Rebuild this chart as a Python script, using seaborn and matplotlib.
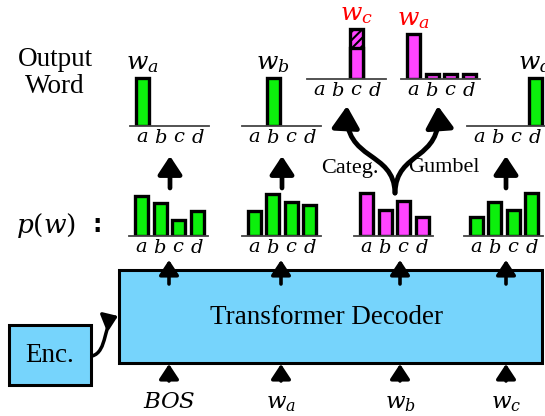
import matplotlib
matplotlib.use("Agg")
import matplotlib.pyplot as plt
import numpy as np
import seaborn as sns
from matplotlib.patches import Rectangle, FancyArrowPatch
from matplotlib.path import Path

# === DATA ===
vocab = ["a", "b", "c", "d"]

# p(w) per decoding step (bar heights, 1.0 = one-hot height)
p_bos = [0.83, 0.69, 0.33, 0.52]
p_wa = [0.52, 0.88, 0.71, 0.65]
p_wb = [0.90, 0.54, 0.73, 0.40]
p_wc = [0.40, 0.71, 0.54, 0.90]

# sampled output words
out_bos = [1.0, 0.0, 0.0, 0.0]
out_wa = [0.0, 1.0, 0.0, 0.0]
out_categ = [0.0, 0.0, 0.65, 0.0]
out_categ_hatch = [0.0, 0.0, 0.40, 0.0]
out_gumbel = [0.94, 0.10, 0.10, 0.10]
out_wc = [0.0, 0.0, 0.0, 1.0]

input_tokens = ["$BOS$", "$w_a$", "$w_b$", "$w_c$"]
output_words = ["$w_a$", "$w_b$", "$w_c$", "$w_a$", "$w_d$"]

GREEN = "#0cf00c"
MAGENTA = "#ff44ff"
BLUE = "#76d4fc"

# === FIGURE (pixel coordinates) ===
sns.set_style("white")
plt.rcParams["font.family"] = ["Liberation Serif", "DejaVu Serif"]
plt.rcParams["mathtext.fontset"] = "dejavuserif"
plt.rcParams["hatch.linewidth"] = 1.5
plt.rcParams["text.color"] = "black"
plt.rcParams["xtick.color"] = "black"
plt.rcParams["xtick.labelcolor"] = "black"

W, H = 545, 416
PX_UNIT = 48  # pixels per unit bar height
fig = plt.figure(figsize=(W / 100, H / 100), dpi=100)
ax0 = fig.add_axes([0, 0, 1, 1])
ax0.set_xlim(0, W)
ax0.set_ylim(H, 0)
ax0.axis("off")


def mini_chart(left, base, values, color, label=None, label_color="black", hatch_top=None):
    hpx = 62
    ax = fig.add_axes([left / W, (H - base) / H, 79 / W, hpx / H])
    ax.patch.set_alpha(0)
    total = list(values)
    if hatch_top is not None:
        total = [v + h for v, h in zip(values, hatch_top)]
        sns.barplot(x=vocab, y=total, color=color, saturation=1, width=0.7,
                    edgecolor="black", linewidth=2.4, hatch="////", ax=ax)
    sns.barplot(x=vocab, y=values, color=color, saturation=1, width=0.7,
                edgecolor="black", linewidth=2.4, ax=ax)
    for p in ax.patches:
        if p.get_height() <= 0:
            p.set_visible(False)
    ax.set_xlim(-0.68, 3.59)
    ax.set_ylim(0, hpx / PX_UNIT)
    sns.despine(ax=ax, left=True)
    ax.spines["bottom"].set_color("#444444")
    ax.spines["bottom"].set_linewidth(1.3)
    ax.set_yticks([])
    ax.set_xticks(range(len(vocab)))
    ax.set_xticklabels([f"${v}$" for v in vocab])
    ax.tick_params(axis="x", length=0, pad=2, labelsize=14, labelcolor="black")
    ax.set_xlabel("")
    ax.set_ylabel("")
    if label is not None:
        idx = int(np.argmax(total))
        ax.text(idx, total[idx] + 0.06, label, ha="center", va="bottom",
                fontsize=18, color=label_color)
    return ax


def arrow(x, y0, y1, lw=3, hw=0.3, hl=0.5, ms=20):
    ax0.annotate("", xy=(x, y1), xytext=(x, y0),
                 arrowprops=dict(arrowstyle=f"-|>,head_width={hw},head_length={hl}",
                                 lw=lw, color="black", shrinkA=0, shrinkB=0,
                                 mutation_scale=ms))


def curved_arrow(verts, lw=3.5, hw=0.35, hl=0.55, ms=20):
    path = Path(verts, [Path.MOVETO, Path.CURVE4, Path.CURVE4, Path.CURVE4])
    ax0.add_patch(FancyArrowPatch(path=path,
                                  arrowstyle=f"-|>,head_width={hw},head_length={hl}",
                                  mutation_scale=ms, lw=lw, color="black"))


# --- boxes ---
ax0.add_patch(Rectangle((119, 270), 423, 93, facecolor=BLUE, edgecolor="black", lw=2.2))
ax0.add_patch(Rectangle((9, 325), 82, 60, facecolor=BLUE, edgecolor="black", lw=2.2))
ax0.text(326, 318, "Transformer Decoder", ha="center", va="center", fontsize=19.5)
ax0.text(50, 356, "Enc.", ha="center", va="center", fontsize=19.5)
curved_arrow([(92, 356), (108, 352), (103, 322), (118, 316)], lw=2.5, hw=0.32, hl=0.45, ms=18)

# --- input / output arrows of the decoder ---
token_x = [169, 281, 400, 506]
for x, tok in zip(token_x, input_tokens):
    arrow(x, 381, 364, lw=2.6, hw=0.33, hl=0.5, ms=18)
    arrow(x, 284, 260, lw=2.6, hw=0.33, hl=0.5, ms=18)
    ax0.text(x, 403, tok, ha="center", va="center", fontsize=16.5)

# --- p(w) row ---
ax0.text(16, 225, "$p(w)$", ha="left", va="center", fontsize=19)
ax0.text(97, 225, ":", ha="center", va="center", fontsize=17,
         fontweight="bold", family="DejaVu Sans")
for left, vals, col in zip([129, 241.5, 354, 463.5],
                           [p_bos, p_wa, p_wb, p_wc],
                           [GREEN, GREEN, MAGENTA, GREEN]):
    mini_chart(left, 236, vals, col)

# --- arrows from p(w) to outputs ---
for x in [170, 282, 506]:
    arrow(x, 188, 156, lw=3.4, hw=0.33, hl=0.5, ms=22)
curved_arrow([(395, 193), (394, 150), (344, 162), (347, 106)], hw=0.38, hl=0.6, ms=22)
curved_arrow([(395, 193), (396, 150), (442, 162), (438, 106)], hw=0.38, hl=0.6, ms=22)
ax0.text(350, 168, "Categ.", ha="center", va="center", fontsize=16)
ax0.text(444, 168, "Gumbel", ha="center", va="center", fontsize=16)

# --- output word row ---
ax0.text(55, 73, "Output\nWord", ha="center", va="center", fontsize=19.5, linespacing=1.15)
mini_chart(130, 126, out_bos, GREEN, output_words[0])
mini_chart(242, 126, out_wa, GREEN, output_words[1])
mini_chart(307, 79, out_categ, MAGENTA, output_words[2], "red", hatch_top=out_categ_hatch)
mini_chart(401, 79, out_gumbel, MAGENTA, output_words[3], "red")
mini_chart(467, 126, out_wc, GREEN, output_words[4])

fig.savefig("out.png", dpi=100, facecolor="white")
